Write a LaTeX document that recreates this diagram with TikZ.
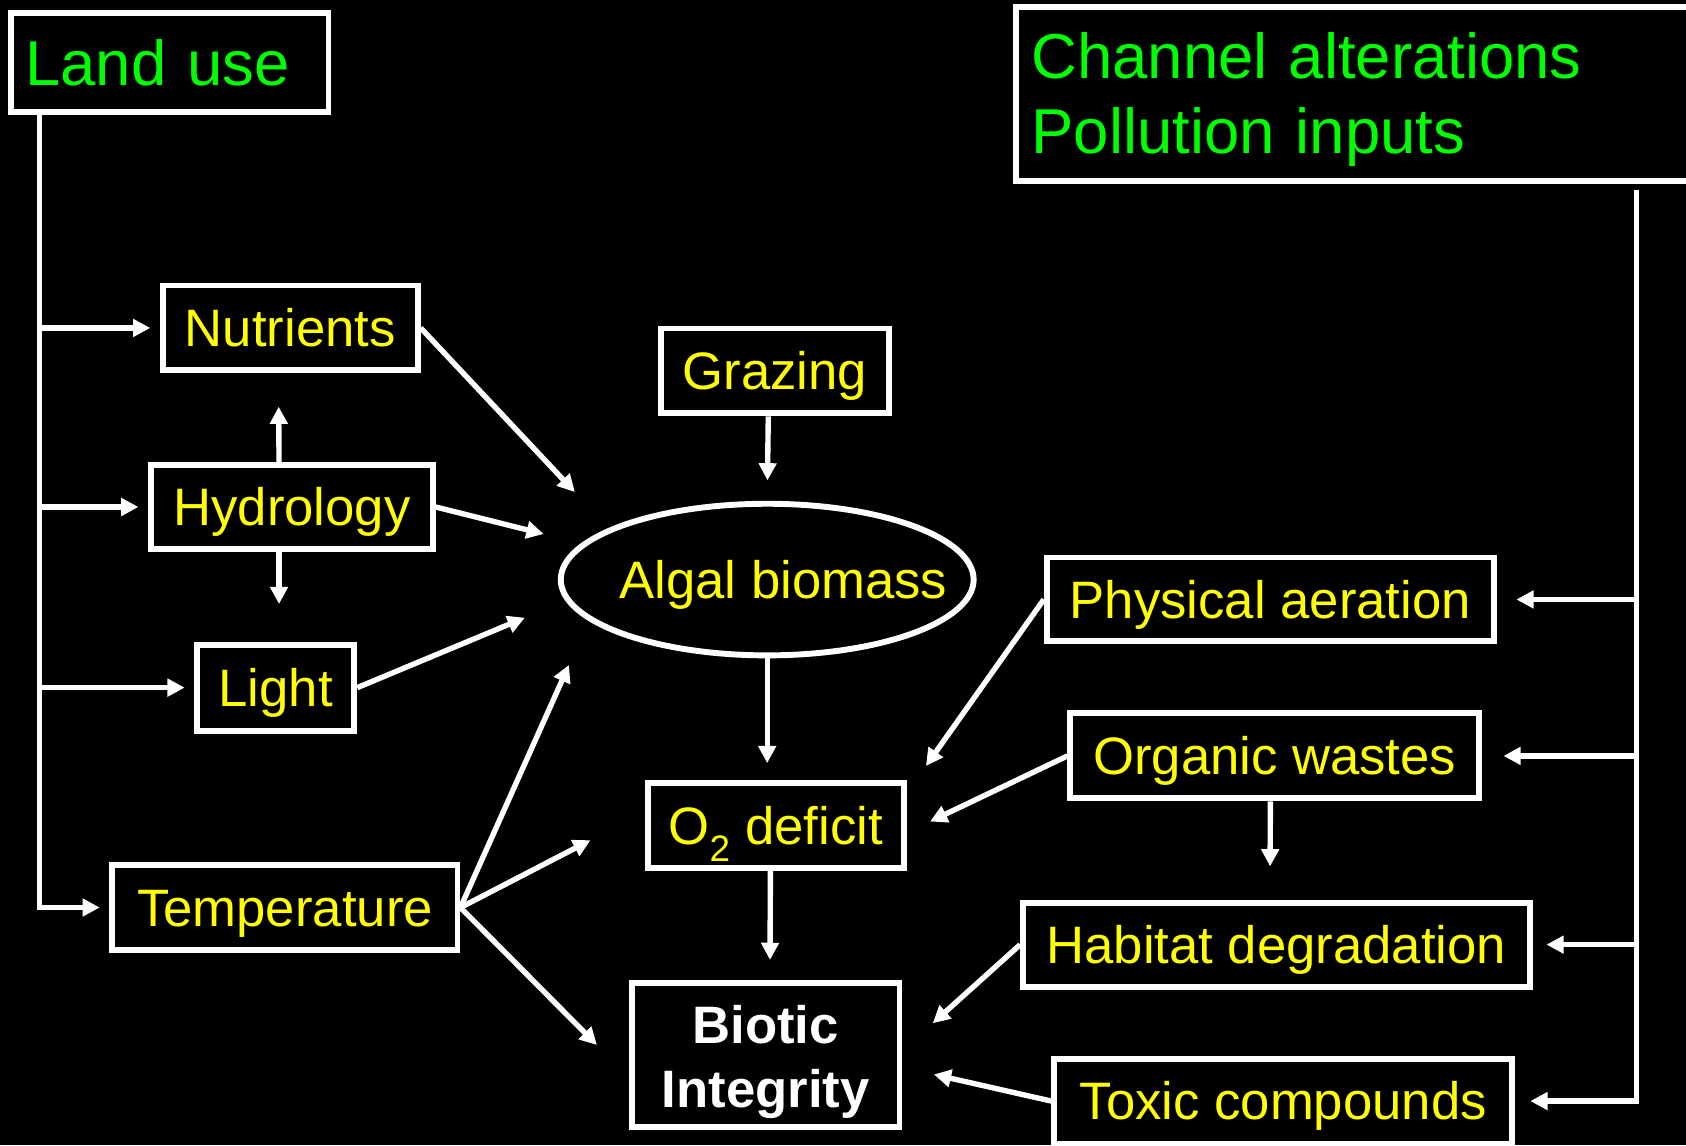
\documentclass[tikz,border=0pt]{standalone}
\usepackage{fontspec}
\setmainfont{Liberation Sans}
\usepackage{tikz}
\usetikzlibrary{positioning, arrows.meta, shapes.geometric, calc}
\definecolor{causeyellow}{RGB}{255,255,0}
\definecolor{drivergreen}{RGB}{0,255,0}
\newcommand{\Oxy}{O\textsubscript{2}}
\tikzset{
    box/.style={draw=white, line width=5.5pt, text=causeyellow, inner sep=0pt,
      minimum height=79pt, text height=35pt, text depth=0pt,
      font=\fontsize{49}{59}\selectfont},
    driver/.style={draw=white, line width=5.5pt, text=drivergreen, inner ysep=0pt,
      align=left, font=\fontsize{59}{70}\selectfont},
    ellip/.style={ellipse, draw=white, line width=5.5pt, text=causeyellow,
      inner xsep=-40pt, inner ysep=0pt,
      text height=35pt, text depth=0pt, font=\fontsize{49}{59}\selectfont},
    arr/.style={draw=white, line width=5pt, -{Triangle[length=16pt,width=16pt]}},
}

\begin{document}
\begin{tikzpicture}[x=1pt, y=-1pt]
    \useasboundingbox (0,0) rectangle (1568,1065);
    \fill[black] (0,0) rectangle (1568,1065);

    \node[driver, text width=269pt, inner xsep=13pt, minimum height=92pt] (landuse) at (158,58.5) {Land use};
    \node[driver, text width=626pt, inner xsep=14.5pt, minimum height=162pt, anchor=west,
      text height=43pt, text depth=72pt] (chan) at (942,87.5)
      {Channel alterations\\Pollution inputs};

    \node[box, minimum width=237pt] (nutr) at (270,305) {Nutrients};
    \node[box, minimum width=262pt, minimum height=78pt] (hydro) at (271.5,471.5) {Hydrology};
    \node[box, minimum width=146pt, minimum height=80pt] (light) at (256.5,639.5) {Light};
    \node[box, minimum width=321pt] (temp) at (265,844) {Temperature};

    \node[box, minimum width=212pt] (graz) at (720.5,345) {Grazing};
    \node[ellip, minimum width=384pt, minimum height=141pt] (alg) at (713.5,539) {\hspace*{30pt}Algal biomass};
    \node[box, minimum width=238pt] (o2) at (721.5,768) {\Oxy{} deficit};
    \node[box, minimum width=249pt, minimum height=134pt, text=white, align=center,
      text height=97pt, text depth=0pt, font=\fontsize{49}{60}\selectfont\bfseries] (biotic) at (712,981.5) {Biotic\\Integrity};

    \node[box, minimum width=416pt, minimum height=78pt] (phys) at (1181.5,557.5) {Physical aeration};
    \node[box, minimum width=380pt] (org) at (1185.5,703) {Organic wastes};
    \node[box, minimum width=471pt, minimum height=78pt] (hab) at (1187,878.5) {Habitat degradation};
    \node[box, minimum width=426pt] (tox) at (1193.5,1024) {Toxic compounds};

    \coordinate (lt) at ([xshift=-121pt]landuse.south);
    \draw[arr, shorten >=9pt] (lt) |- (temp.west);
    \foreach \n in {nutr, hydro, light}
      \draw[arr, shorten >=9pt] (lt |- \n.west) -- (\n.west);

    \coordinate (rt) at ($(chan.south west)+(580,5)$);
    \draw[arr, shorten >=14pt] (rt) |- (tox.east);
    \draw[arr, shorten >=18pt] (rt |- phys.east) -- (phys.east);
    \draw[arr, shorten >=20pt] (rt |- org.east) -- (org.east);
    \draw[arr, shorten >=13pt] (rt |- hab.east) -- (hab.east);

    \draw[arr, shorten >=31pt] ([xshift=-12pt]hydro.north) -- ([xshift=-11pt]nutr.south);
    \draw[arr, shorten >=35pt] ([xshift=-12pt]hydro.south) -- ([xshift=3pt]light.north);
    \draw[arr, shorten >=46pt] (nutr.east) -- (alg.162);
    \draw[arr, shorten >=36pt] (hydro.east) -- (alg.169);
    \draw[arr, shorten >=41pt] (light.east) -- (alg.186);
    \draw[arr, shorten >=45pt] (temp.east) -- (alg.193);
    \draw[arr, shorten >=57pt] (temp.east) -- (o2.174);
    \draw[arr, shorten >=42pt] (temp.east) -- (biotic.189);

    \draw[arr, shorten >=19pt] ([xshift=-6pt]graz.south) -- (alg.north);
    \draw[arr, shorten >=16pt] (alg.south) -- ([xshift=-8pt]o2.north);
    \draw[arr, shorten >=19pt] ([xshift=-5pt]o2.south) -- ([xshift=4pt]biotic.north);

    \draw[arr, shorten >=31pt] (phys.west) -- (o2.14);
    \draw[arr, shorten >=24pt] (org.west) -- (o2.357);
    \draw[arr, shorten >=31pt] ([xshift=-4pt]org.south) -- ([xshift=-6pt]hab.north);
    \draw[arr, shorten >=38pt] (hab.west) -- (biotic.2);
    \draw[arr, shorten >=30pt] (tox.west) -- (biotic.355);
\end{tikzpicture}
\end{document}
